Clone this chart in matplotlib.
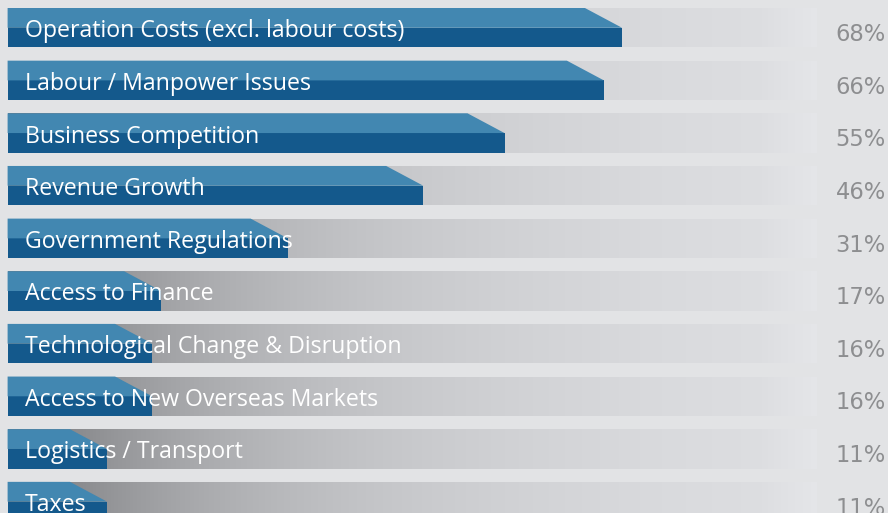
import numpy as np
import matplotlib
matplotlib.use("Agg")
import matplotlib.pyplot as plt
from matplotlib.patches import Polygon, Rectangle

categories = [
    "Operation Costs (excl. labour costs)",
    "Labour / Manpower Issues",
    "Business Competition",
    "Revenue Growth",
    "Government Regulations",
    "Access to Finance",
    "Technological Change & Disruption",
    "Access to New Overseas Markets",
    "Logistics / Transport",
    "Taxes",
]
values = [68, 66, 55, 46, 31, 17, 16, 16, 11, 11]
value_labels = ["68%", "66%", "55%", "46%", "31%", "17%", "16%", "16%", "11%", "11%"]

W, H = 888, 513
fig = plt.figure(figsize=(W / 100, H / 100), dpi=100)
fig.patch.set_facecolor("#e2e3e5")
ax = fig.add_axes([0, 0, 1, 1])
ax.set_facecolor("#e2e3e5")

px_per = 9.035   # pixels per percent
x0px = 7.6
pitch = 52.65
row0 = 27.75
ax.set_xlim(-x0px / px_per, (W - x0px) / px_per)
ax.set_ylim((H - row0) / pitch, -row0 / pitch)
ax.axis("off")

bar_h = 0.75
half = bar_h / 2
slant = 4.1
track_end = 89.5

xs = np.linspace(-x0px / px_per, track_end, 400)
xpix = xs * px_per + x0px
g = 230 - 100 * np.exp(-(xpix - 50) / 300)
fade = np.clip((xpix - 760) / 60, 0, 1)
g = g * (1 - fade) + 229 * fade
rgb = np.stack([g, g + 1, g + 4], axis=-1) / 255.0
rgb = np.clip(rgb, 0, 1)
img = rgb[np.newaxis, :, :]

light = "#4287b1"
dark = "#14598c"

for i, (cat, v, lab) in enumerate(zip(categories, values, value_labels)):
    top = i - half
    bot = i + half
    im = ax.imshow(img, extent=[xs[0], xs[-1], bot, top], aspect="auto",
                   interpolation="bilinear", zorder=1)
    clip = Rectangle((0, top), track_end, bar_h, transform=ax.transData,
                     facecolor="none", edgecolor="none")
    ax.add_patch(clip)
    im.set_clip_path(clip)
    ax.barh(i + half / 2, v, height=half, left=0, color=dark, zorder=2,
            linewidth=0)
    poly = Polygon([(0, top), (v - slant, top), (v, i), (0, i)],
                   closed=True, facecolor=light, edgecolor="none", zorder=2)
    ax.add_patch(poly)
    ax.text(1.93, i + 0.18, cat, color="white", fontsize=16.7,
            family="Open Sans", va="baseline", ha="left", zorder=3)
    ax.text(97.2, i + 0.25, lab, color="#8d8e90", fontsize=16.3,
            family="DejaVu Sans", va="baseline", ha="right", zorder=3)

ax.set_xlim(-x0px / px_per, (W - x0px) / px_per)
ax.set_ylim((H - row0) / pitch, -row0 / pitch)
fig.savefig("out.png", dpi=100, facecolor=fig.get_facecolor())
